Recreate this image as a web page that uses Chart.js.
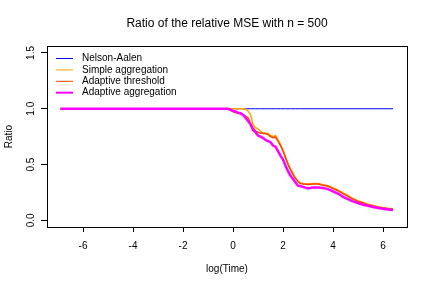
<!DOCTYPE html>
<html>
<head>
<meta charset="utf-8">
<script src="https://cdn.jsdelivr.net/npm/chart.js@4"></script>
<style>
  html, body { margin: 0; padding: 0; background: #fff; }
  #wrap { width: 431px; height: 286px; }
</style>
</head>
<body>
<div id="wrap"><canvas id="chartRatio" width="431" height="286"></canvas></div>
<script>
  // log(Time) grid shared by all series
  const logTime = [-6.9, -0.2, -0.1, 0.0, 0.1, 0.2, 0.3, 0.4, 0.5, 0.6, 0.7, 0.8, 0.9,
    1.0, 1.1, 1.2, 1.3, 1.4, 1.5, 1.6, 1.7, 1.8, 1.9, 2.0, 2.1, 2.2, 2.3, 2.4, 2.5,
    2.6, 2.7, 2.8, 3.0, 3.2, 3.4, 3.6, 3.8, 4.0, 4.2, 4.4, 4.6, 4.8, 5.0, 5.2, 5.4,
    5.6, 5.8, 6.0, 6.2, 6.4];

  const nelsonAalen = [1, 1, 1, 1, 1, 1, 1, 1, 1, 1, 1, 1, 1,
    1, 1, 1, 1, 1, 1, 1, 1, 1, 1, 1, 1, 1, 1, 1, 1,
    1, 1, 1, 1, 1, 1, 1, 1, 1, 1, 1, 1, 1, 1, 1, 1,
    1, 1, 1, 1, 1];

  const simpleAgg = [1, 1, 1, 1, 1, 1, 1, 1, 0.995, 0.98, 0.95, 0.86, 0.83,
    0.82, 0.80, 0.78, 0.78, 0.78, 0.76, 0.75, 0.76, 0.72, 0.68, 0.63, 0.57, 0.51, 0.46, 0.42, 0.38,
    0.35, 0.335, 0.33, 0.325, 0.33, 0.33, 0.32, 0.31, 0.29, 0.27, 0.245, 0.22, 0.195, 0.175, 0.16, 0.145,
    0.133, 0.122, 0.114, 0.108, 0.104];

  const adaptThreshold = [1, 1, 0.99, 0.975, 0.965, 0.96, 0.955, 0.95, 0.935, 0.92, 0.87, 0.83, 0.80,
    0.79, 0.78, 0.78, 0.775, 0.77, 0.75, 0.74, 0.745, 0.71, 0.67, 0.62, 0.56, 0.50, 0.455, 0.41, 0.375,
    0.345, 0.33, 0.325, 0.32, 0.325, 0.325, 0.315, 0.305, 0.285, 0.265, 0.24, 0.215, 0.19, 0.17, 0.155, 0.14,
    0.128, 0.118, 0.11, 0.104, 0.099];

  const adaptAgg = [1, 1, 0.99, 0.98, 0.975, 0.965, 0.96, 0.945, 0.92, 0.89, 0.86, 0.81, 0.79,
    0.76, 0.75, 0.74, 0.72, 0.71, 0.70, 0.67, 0.66, 0.62, 0.58, 0.545, 0.49, 0.44, 0.40, 0.37, 0.34,
    0.31, 0.305, 0.30, 0.285, 0.295, 0.295, 0.29, 0.28, 0.26, 0.24, 0.21, 0.19, 0.17, 0.155, 0.14, 0.13,
    0.12, 0.11, 0.103, 0.097, 0.092];

  const xTicks = [-6, -4, -2, 0, 2, 4, 6];
  const yTicks = [0, 0.5, 1, 1.5];

  const font = 'Liberation Sans, Arial, Helvetica, sans-serif';
  const pts = ys => logTime.map((x, i) => ({ x: x, y: ys[i] }));

  // R-like box around the plot region
  const boxPlugin = {
      id: 'box',
      afterDraw(chart) {
          const a = chart.chartArea, ctx = chart.ctx;
          ctx.save();
          ctx.strokeStyle = '#000';
          ctx.lineWidth = 1;
          ctx.strokeRect(Math.round(a.left) + 0.5, Math.round(a.top) + 0.5,
              Math.round(a.right - a.left), Math.round(a.bottom - a.top));
          ctx.restore();
      }
  };

  // legend in the top-left corner of the plot region
  const legendPlugin = {
      id: 'rlegend',
      afterDraw(chart) {
          const a = chart.chartArea, ctx = chart.ctx;
          ctx.save();
          ctx.font = '10px ' + font;
          ctx.textBaseline = 'middle';
          ctx.fillStyle = '#000';
          chart.data.datasets.forEach((ds, i) => {
              const y = a.top + 12.5 + i * 11.4;
              ctx.strokeStyle = ds.borderColor;
              ctx.lineWidth = ds.legendWidth;
              ctx.beginPath();
              ctx.moveTo(a.left + 9, y);
              ctx.lineTo(a.left + 26, y);
              ctx.stroke();
              ctx.fillText(ds.label, a.left + 35, y);
          });
          ctx.restore();
      }
  };

  new Chart(document.getElementById('chartRatio'), {
      type: 'line',
      data: {
          datasets: [
              { label: 'Nelson-Aalen', data: pts(nelsonAalen), borderColor: '#0000ff', borderWidth: 1, legendWidth: 1, order: 3 },
              { label: 'Simple aggregation', data: pts(simpleAgg), borderColor: '#ffa500', borderWidth: 1.5, legendWidth: 1, order: 2 },
              { label: 'Adaptive threshold', data: pts(adaptThreshold), borderColor: '#ff4500', borderWidth: 1.5, legendWidth: 1, order: 1 },
              { label: 'Adaptive aggregation', data: pts(adaptAgg), borderColor: '#ff00ff', borderWidth: 2.5, legendWidth: 2, order: 0 }
          ]
      },
      plugins: [boxPlugin, legendPlugin],
      options: {
          responsive: false,
          animation: false,
          devicePixelRatio: 1,
          layout: { padding: { left: 0, right: 24, top: 0, bottom: 0 } },
          elements: { point: { radius: 0 }, line: { tension: 0 } },
          plugins: {
              legend: { display: false },
              tooltip: { enabled: false },
              title: {
                  display: true,
                  fullSize: false,
                  text: 'Ratio of the relative MSE with n = 500',
                  color: '#000',
                  font: { family: font, size: 12, weight: 'normal' },
                  padding: { top: 16.8, bottom: 14.8 }
              }
          },
          scales: {
              x: {
                  type: 'linear',
                  min: -7.44,
                  max: 6.96,
                  afterBuildTicks: s => { s.ticks = xTicks.map(v => ({ value: v })); },
                  afterFit: s => { s.height = 59; },
                  grid: { display: true, drawOnChartArea: false, drawTicks: true, tickLength: 5, color: '#000' },
                  border: { display: false },
                  ticks: { color: '#000', font: { family: font, size: 10 }, padding: 8, maxRotation: 0 },
                  title: { display: true, text: 'log(Time)', color: '#000',
                      font: { family: font, size: 10 }, padding: { top: 0, bottom: 11 } }
              },
              y: {
                  min: -0.06,
                  max: 1.5625,
                  afterBuildTicks: s => { s.ticks = yTicks.map(v => ({ value: v })); },
                  afterFit: s => { s.width = 47; },
                  grid: { display: true, drawOnChartArea: false, drawTicks: true, tickLength: 6, color: '#000' },
                  border: { display: false },
                  ticks: { color: '#000', font: { family: font, size: 10 }, padding: 3,
                      minRotation: 90, maxRotation: 90, crossAlign: 'center',
                      callback: v => v.toFixed(1) },
                  title: { display: true, text: 'Ratio', color: '#000',
                      font: { family: font, size: 10 }, padding: { top: 3, bottom: 0 } }
              }
          }
      }
  });
</script>
</body>
</html>
